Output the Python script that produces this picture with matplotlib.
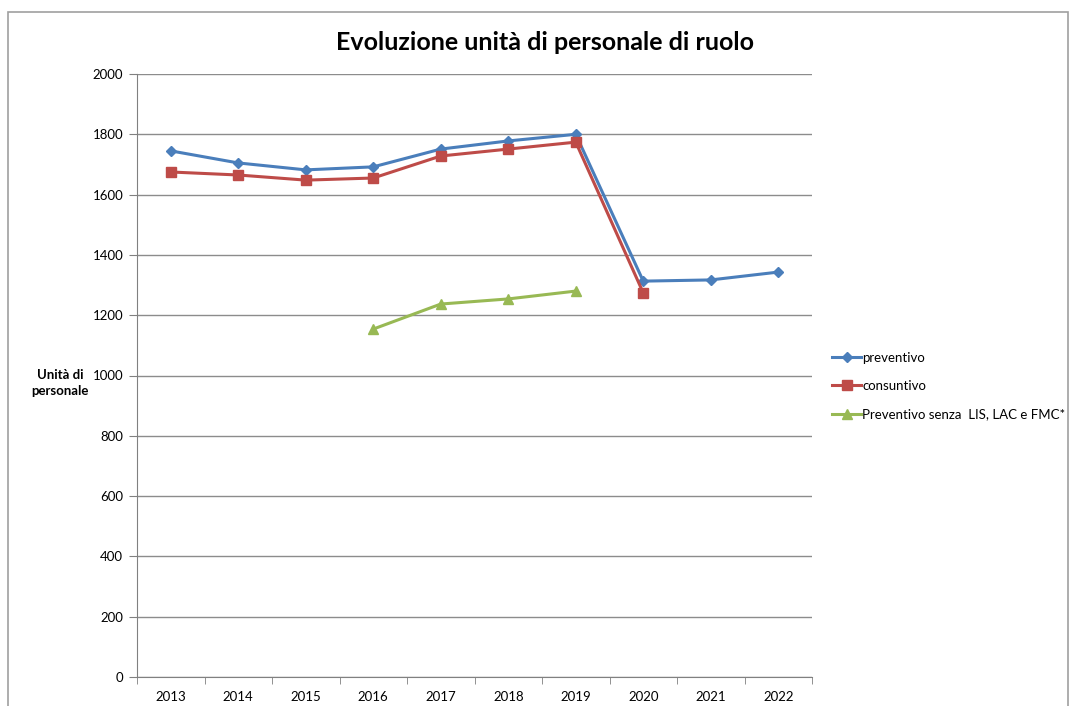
import matplotlib
matplotlib.use('Agg')
from matplotlib import pyplot as plt
from matplotlib.patches import Rectangle
import numpy as np

plt.rcParams['font.family'] = ['Lato', 'DejaVu Sans']

anni = ['2013', '2014', '2015', '2016', '2017', '2018', '2019', '2020', '2021', '2022']
preventivo = [1745, 1705, 1682, 1692, 1751, 1778, 1800, 1313, 1317, 1343]
consuntivo = [1675, 1665, 1648, 1655, 1728, 1751, 1774, 1274, np.nan, np.nan]
prev_senza = [np.nan, np.nan, np.nan, 1154, 1237, 1254, 1280, np.nan, np.nan, np.nan]

fig = plt.figure(figsize=(10.7, 7.06), dpi=100)
ax = fig.add_axes([137 / 1070, 29 / 706, 675 / 1070, 603 / 706])

# outer chart border
fig.patches.append(Rectangle((8 / 1070, -0.05), 1060 / 1070, 1.05 - 12 / 706,
                             transform=fig.transFigure, fill=False,
                             edgecolor='#a0a0a0', linewidth=1.2))

x = np.arange(len(anni))
ax.plot(x, preventivo, color='#4a7ebb', lw=2.2, marker='D', ms=5.5, label='preventivo')
ax.plot(x, consuntivo, color='#be4b48', lw=2.2, marker='s', ms=7, label='consuntivo')
ax.plot(x, prev_senza, color='#98b954', lw=2.2, marker='^', ms=7,
        label='Preventivo senza  LIS, LAC e FMC*')

ax.set_xlim(-0.5, len(anni) - 0.5)
ax.set_ylim(0, 2000)
ax.set_yticks(range(0, 2001, 200))
ax.set_xticks(x)
ax.set_xticklabels(anni, fontsize=9.5)
ax.set_xticks(np.arange(-0.5, len(anni)), minor=True)
ax.tick_params(axis='x', which='major', length=0, pad=10)
ax.tick_params(axis='x', which='minor', length=5, color='#808080', direction='out')
ax.tick_params(axis='y', length=6, color='#808080', labelsize=9.5, pad=4)
ax.grid(axis='y', color='#8c8c8c', lw=1)
ax.set_axisbelow(True)
for s in ['top', 'right']:
    ax.spines[s].set_visible(False)
for s in ['left', 'bottom']:
    ax.spines[s].set_color('#808080')

fig.text(545 / 1070, 1 - 42 / 706, 'Evoluzione unità di personale di ruolo',
         ha='center', va='center', fontsize=18, fontweight='bold')
fig.text(60 / 1070, 1 - 383 / 706, 'Unità di\npersonale', ha='center', va='center',
         fontsize=9.5, fontweight='bold', linespacing=1.4)

ax.legend(loc='center left', bbox_to_anchor=(832 / 1070, 1 - 386 / 706),
          bbox_transform=fig.transFigure, frameon=False, fontsize=9.5,
          handlelength=2.2, labelspacing=1.25, handletextpad=0.1,
          borderpad=0, borderaxespad=0)

fig.savefig('out.png', dpi=100)
